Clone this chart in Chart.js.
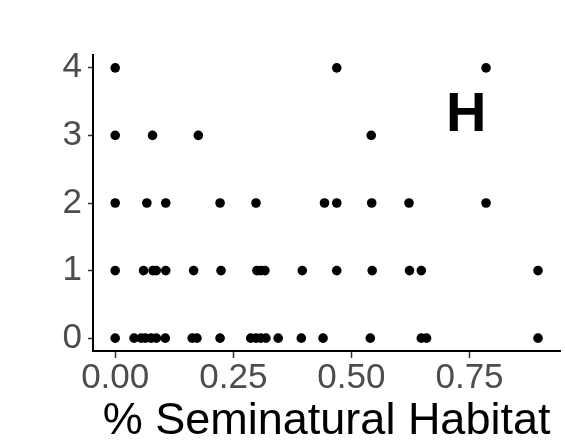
<!DOCTYPE html>
<html>
<head>
<meta charset="utf-8">
<script src="https://cdn.jsdelivr.net/npm/chart.js@4"></script>
<style>
  html, body { margin: 0; padding: 0; background: #fff; }
  #wrap { width: 565px; height: 446px; }
</style>
</head>
<body>
<div id="wrap"><canvas id="chart" width="565" height="446"></canvas></div>
<script>
// valores (% habitat seminatural por contagem)
const countLevels = [0, 1, 2, 3, 4];
const habitatAt0 = [0, 0.040, 0.055, 0.064, 0.076, 0.087, 0.106, 0.163, 0.173, 0.222, 0.287, 0.298, 0.308, 0.319, 0.345, 0.394, 0.440, 0.540, 0.648, 0.659, 0.895];
const habitatAt1 = [0, 0.060, 0.080, 0.087, 0.107, 0.166, 0.224, 0.300, 0.308, 0.317, 0.396, 0.469, 0.544, 0.623, 0.648, 0.895];
const habitatAt2 = [0, 0.067, 0.107, 0.222, 0.298, 0.443, 0.469, 0.543, 0.622, 0.785];
const habitatAt3 = [0, 0.079, 0.176, 0.542];
const habitatAt4 = [0, 0.469, 0.785];

const xTickValues = [0, 0.25, 0.5, 0.75];
const xTickLabels = ['0.00', '0.25', '0.50', '0.75'];
const yTickValues = [0, 1, 2, 3, 4];
const panelLabel = 'H';
const xTitle = '% Seminatural Habitat';

const byLevel = [habitatAt0, habitatAt1, habitatAt2, habitatAt3, habitatAt4];
const points = [];
byLevel.forEach((xs, i) => {
    xs.forEach(x => points.push({ x: x, y: countLevels[i] }));
});

// Rótulo do painel
const panelLabelPlugin = {
    id: 'panelLabel',
    afterDatasetsDraw(chart) {
        const { ctx, scales } = chart;
        ctx.save();
        ctx.font = 'bold 56px "Liberation Sans", Arial, sans-serif';
        ctx.fillStyle = '#000';
        ctx.textAlign = 'center';
        ctx.textBaseline = 'middle';
        ctx.fillText(panelLabel, scales.x.getPixelForValue(0.743), scales.y.getPixelForValue(3.29));
        ctx.restore();
    }
};

new Chart(document.getElementById('chart'), {
    type: 'scatter',
    data: {
        datasets: [{
            data: points,
            backgroundColor: '#000',
            borderWidth: 0,
            pointRadius: 4.8,
            pointHoverRadius: 4.8
        }]
    },
    options: {
        responsive: false,
        animation: false,
        layout: { padding: { top: 55, right: 2, bottom: 0, left: 0 } },
        plugins: { legend: { display: false }, tooltip: { enabled: false } },
        scales: {
            x: {
                type: 'linear',
                min: -0.047,
                max: 0.942,
                afterBuildTicks: axis => { axis.ticks = xTickValues.map(v => ({ value: v })); },
                afterFit: axis => { axis.height = 95; },
                ticks: {
                    callback: (v) => xTickLabels[xTickValues.indexOf(v)],
                    color: '#4D4D4D',
                    font: { family: '"Liberation Sans", Arial, sans-serif', size: 35, lineHeight: 1 },
                    padding: 3,
                    maxRotation: 0
                },
                grid: { drawOnChartArea: false, tickLength: 7, tickColor: '#333', tickWidth: 1.5 },
                border: { color: '#000', width: 2 },
                title: {
                    display: true,
                    text: xTitle,
                    color: '#000',
                    font: { family: '"Liberation Sans", Arial, sans-serif', size: 45, lineHeight: 1 },
                    padding: { top: 0, bottom: 2 }
                }
            },
            y: {
                type: 'linear',
                min: -0.19,
                max: 4.19,
                afterBuildTicks: axis => { axis.ticks = yTickValues.map(v => ({ value: v })); },
                afterFit: axis => { axis.width = 93; },
                ticks: {
                    color: '#4D4D4D',
                    font: { family: '"Liberation Sans", Arial, sans-serif', size: 35 },
                    padding: 6
                },
                grid: { drawOnChartArea: false, tickLength: 5, tickColor: '#333', tickWidth: 1.5 },
                border: { color: '#000', width: 2 }
            }
        }
    },
    plugins: [panelLabelPlugin]
});
</script>
</body>
</html>
